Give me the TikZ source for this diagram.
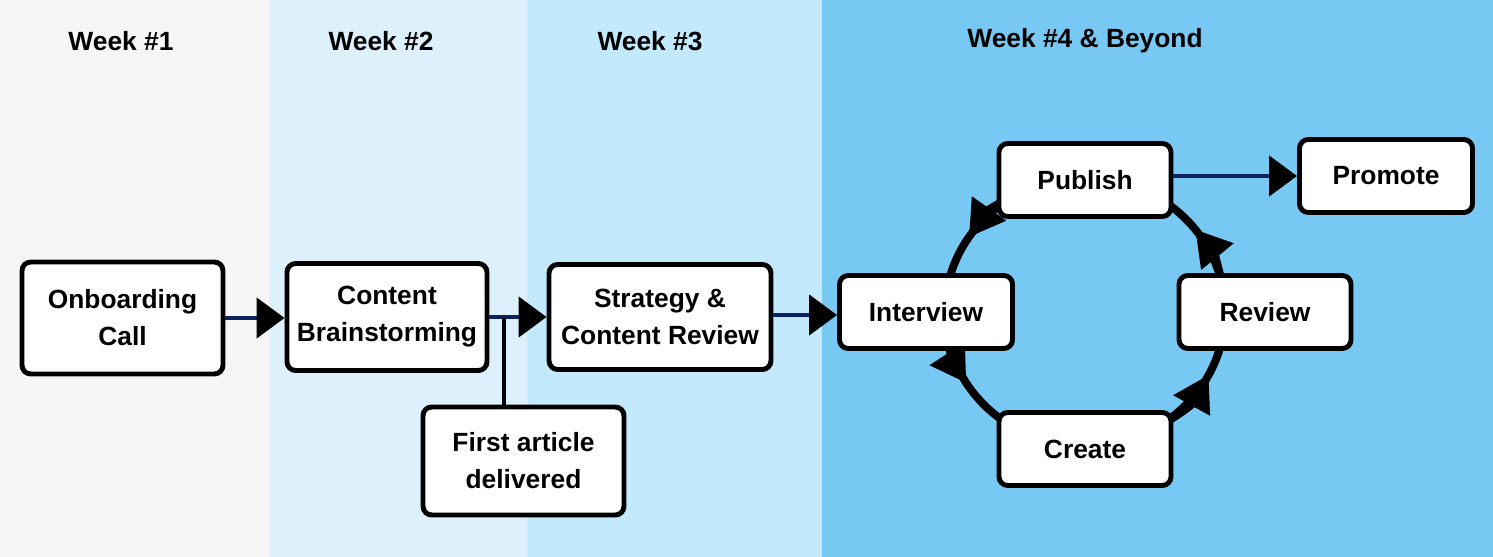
\documentclass[tikz,border=0pt]{standalone}
\usepackage{fontspec}
\setmainfont{Liberation Sans}
\usetikzlibrary{arrows.meta}
\definecolor{bandA}{HTML}{F6F6F6}
\definecolor{bandB}{HTML}{DCF1FC}
\definecolor{bandC}{HTML}{C2E9FC}
\definecolor{bandD}{HTML}{77C9F3}
\definecolor{shaft}{HTML}{0D2360}
\tikzset{
  stage/.style={draw=black, line width=2.8pt, fill=white, rounded corners=5pt,
    align=center, font=\fontsize{15}{21}\selectfont\bfseries, inner sep=0pt},
  week/.style={font=\fontsize{15}{18}\selectfont\bfseries},
  flow/.style={draw=shaft, line width=2.8pt,
    -{Triangle[length=0.56cm, width=0.8cm, fill=black, color=black]}},
  cycle/.style={draw=black, line width=4.5pt},
  cyctip/.style={cycle, -{Triangle[length=0.7cm, width=0.8cm]}}
}
\begin{document}
\begin{tikzpicture}[x=0.02cm, y=-0.02cm]
  % week bands
  \fill[bandA] (0,0) rectangle (269,557);
  \fill[bandB] (269,0) rectangle (527,557);
  \fill[bandC] (527,0) rectangle (822,557);
  \fill[bandD] (822,0) rectangle (1493,557);
  \node[week] (w1) at (121,41) {Week \#1};
  \node[week] (w2) at (381,41) {Week \#2};
  \node[week] (w3) at (650,41) {Week \#3};
  \node[week] (w4) at (1085,41) {Week \#4 \& Beyond};
  % the cycle
  \coordinate (hub) at (1085,312);
  \draw[cycle] (hub) ellipse [x radius=140, y radius=134];
  \draw[cyctip] (hub) ++(255:140 and 134) arc[start angle=255, end angle=214, x radius=140, y radius=134];
  \draw[cyctip] (hub) ++(175:140 and 134) arc[start angle=175, end angle=148, x radius=140, y radius=134];
  \draw[cyctip] (hub) ++(70:140 and 134) arc[start angle=70, end angle=28, x radius=140, y radius=134];
  \draw[cyctip] (hub) ++(355:140 and 134) arc[start angle=355, end angle=322, x radius=140, y radius=134];
  % stages
  \node[stage, minimum width=201*0.02cm, minimum height=112*0.02cm] (onboard) at (122.5,318) {Onboarding\\Call};
  \node[stage, minimum width=200*0.02cm, minimum height=107*0.02cm] (brain) at (387,317) {Content\\Brainstorming};
  \node[stage, minimum width=201*0.02cm, minimum height=108*0.02cm] (first) at (523.5,461) {First article\\delivered};
  \node[stage, minimum width=222*0.02cm, minimum height=105*0.02cm] (strategy) at (660,317) {Strategy \&\\Content Review};
  \node[stage, minimum width=173*0.02cm, minimum height=73*0.02cm] (interview) at (926,312) {Interview};
  \node[stage, minimum width=172*0.02cm, minimum height=73*0.02cm] (publish) at (1085,180) {Publish};
  \node[stage, minimum width=172*0.02cm, minimum height=73*0.02cm] (review) at (1265,312) {Review};
  \node[stage, minimum width=172*0.02cm, minimum height=73*0.02cm] (create) at (1085,449) {Create};
  \node[stage, minimum width=173*0.02cm, minimum height=73*0.02cm] (promote) at (1386,176) {Promote};
  % connectors
  \draw[flow] (onboard.east) -- (onboard.east -| brain.west);
  \draw[flow] (brain.east) -- (strategy.west |- brain.east);
  \coordinate (join) at (504,317);
  \draw[black, line width=2.8pt] (first.north -| join) -- (join);
  \draw[flow] (strategy.east |- 0,315) -- (interview.west |- 0,315);
  \draw[flow] (publish.east |- promote.west) -- (promote.west);
\end{tikzpicture}
\end{document}
